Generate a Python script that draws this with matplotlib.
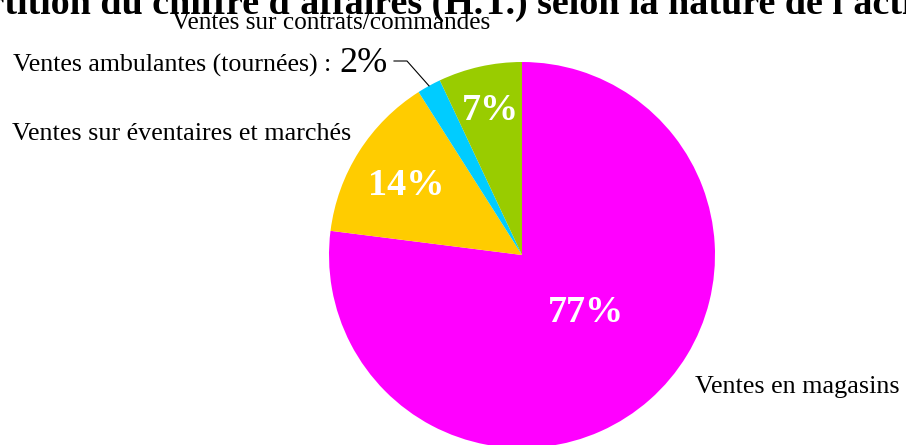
import matplotlib
matplotlib.use("Agg")
import matplotlib.pyplot as plt
import numpy as np

plt.rcParams['font.family'] = ['Liberation Serif', 'DejaVu Serif']

# data
categories = ['Ventes en magasins', 'Ventes sur éventaires et marchés',
              'Ventes ambulantes (tournées)', 'Ventes sur contrats/commandes']
shares = [77, 14, 2, 7]
colors = ['#FF00FF', '#FFCC00', '#00CCFF', '#99CC00']
title = "Répartition du chiffre d'affaires (H.T.) selon la nature de l'activité"

W, H = 906, 445
fig = plt.figure(figsize=(W/100, H/100), dpi=100)
ax = fig.add_axes([0, 0, 1, 1])

cx, cy, r = 522, H-255, 193
wedges, _ = ax.pie(shares, colors=colors, startangle=90, counterclock=False,
                   center=(cx, cy), radius=r, frame=True,
                   wedgeprops=dict(linewidth=0))
ax.set_xlim(0, W)
ax.set_ylim(0, H)
ax.set_aspect('equal')
ax.axis('off')

# percentages inside the slices
inside = {0: (586, H-322), 1: (406, H-195), 3: (490, H-120)}
for i, (x, y) in inside.items():
    ax.text(x, y, '%d%%' % shares[i], color='white', fontsize=27.5,
            fontweight='bold', ha='center', va='baseline')

# outside labels
ax.text(172, H-29, categories[3], fontsize=18.2, ha='left', va='baseline')
ax.text(12, H-140, categories[1], fontsize=18.8, ha='left', va='baseline')
ax.text(695, H-393, categories[0], fontsize=18.8, ha='left', va='baseline')
ax.text(338, H-72, categories[2] + ' : ', fontsize=18.6, ha='right', va='baseline')
ax.text(339, H-72, '%d%%' % shares[2], fontsize=26, ha='left', va='baseline')

# leader line for the small slice
w = wedges[2]
mid = np.deg2rad((w.theta1 + w.theta2) / 2)
ex, ey = cx + r*np.cos(mid), cy + r*np.sin(mid)
ax.plot([394, 407, ex], [H-61, H-61, ey], color='black', lw=0.8)

# title is cut off by the frame, as in the original
fig.text(437/W, (H-14)/H, title, fontsize=27.4, fontweight='bold',
         ha='center', va='baseline')

fig.savefig('out.png', dpi=100)
